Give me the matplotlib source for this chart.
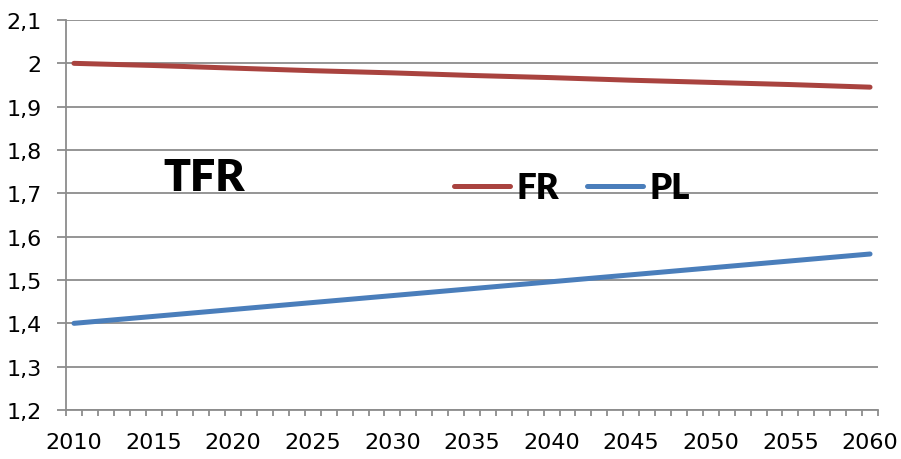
import matplotlib
matplotlib.use('Agg')
import matplotlib.pyplot as plt
from matplotlib.ticker import FixedLocator, FuncFormatter

years = [2010, 2015, 2020, 2025, 2030, 2035, 2040, 2045, 2050, 2055, 2060]
fr = [2.000, 1.995, 1.989, 1.983, 1.978, 1.972, 1.967, 1.961, 1.956, 1.951, 1.945]
pl = [1.400, 1.416, 1.432, 1.448, 1.464, 1.480, 1.496, 1.512, 1.528, 1.544, 1.560]
yticks = [1.2, 1.3, 1.4, 1.5, 1.6, 1.7, 1.8, 1.9, 2.0, 2.1]

W, H = 901, 460
fig = plt.figure(figsize=(W / 100, H / 100), dpi=100)
ax = fig.add_axes([66 / W, 1 - 411 / H, 812 / W, 390 / H])

ax.plot(years, fr, color='#A9433F', lw=3.6, solid_capstyle='round', label='FR', zorder=3)
ax.plot(years, pl, color='#4A7EBB', lw=3.6, solid_capstyle='round', label='PL', zorder=3)

ax.set_xlim(2009.5, 2060.5)
ax.set_ylim(1.2, 2.1)
ax.set_yticks(yticks)
ax.yaxis.set_major_formatter(FuncFormatter(lambda v, p: ('%g' % round(v, 1)).replace('.', ',')))
ax.set_xticks(years)
ax.xaxis.set_minor_locator(FixedLocator([y + 0.5 for y in range(2009, 2061)]))

ax.grid(axis='y', color='#8c8c8c', lw=1.3)
ax.set_axisbelow(True)
for s in ['top', 'right']:
    ax.spines[s].set_visible(False)
for s in ['left', 'bottom']:
    ax.spines[s].set_color('#8c8c8c')
    ax.spines[s].set_linewidth(1.3)

ax.tick_params(axis='y', length=6.5, width=1.3, color='#8c8c8c', pad=11, labelsize=16)
ax.tick_params(axis='x', which='major', length=0, pad=16, labelsize=16)
ax.tick_params(axis='x', which='minor', length=4, width=1.3, color='#8c8c8c')

fig.text(163 / W, 1 - 178 / H, 'TFR', fontsize=32, fontweight='heavy',
         family='Lato', va='center', ha='left')

leg = ax.legend(loc='center', frameon=False, ncol=2,
                prop={'family': 'Lato', 'weight': 'heavy', 'size': 25},
                handlelength=1.6, handletextpad=0.2, columnspacing=0.8)
leg.set_bbox_to_anchor((572 / W, 1 - 189 / H), transform=fig.transFigure)

fig.savefig('out.png', dpi=100)
